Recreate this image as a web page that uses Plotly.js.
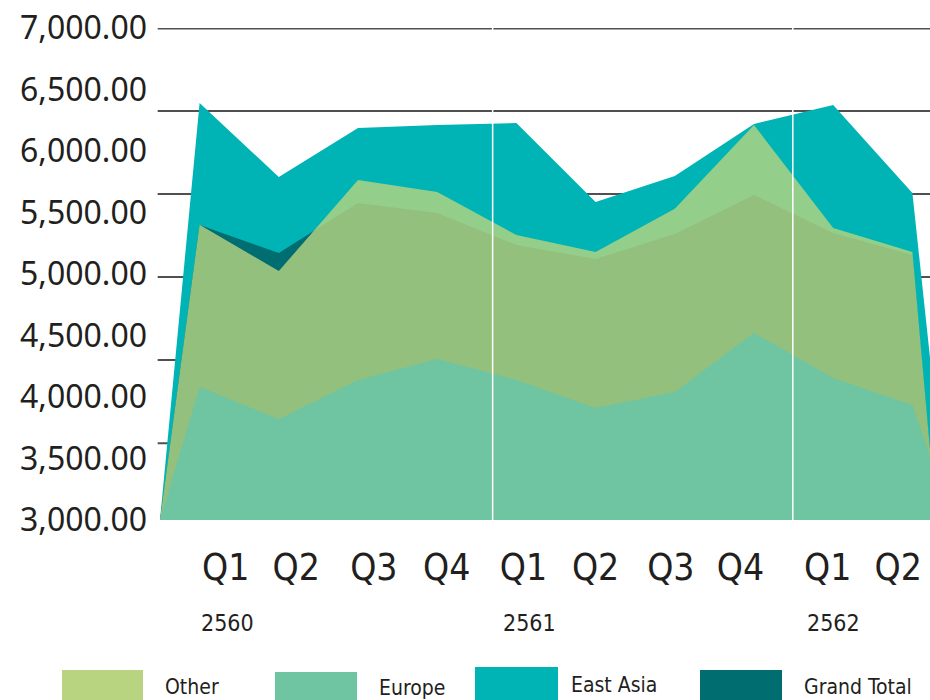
<!DOCTYPE html>
<html>
<head>
<meta charset="utf-8">
<script src="https://cdn.plot.ly/plotly-3.0.1.min.js"></script>
<style>html,body{margin:0;padding:0;background:#fff;}#chart{width:930px;height:700px;}</style>
</head>
<body>
<div id="chart"></div>
<script>
// ---- data ----
var seriesNames = ["Other", "Europe", "East Asia", "Grand Total"];
var quarterIdx = [0.5, 1, 2, 3, 4, 5, 6, 7, 8, 9, 10, 10.5];
var quarterLabels = ["Q1", "Q2", "Q3", "Q4", "Q1", "Q2", "Q3", "Q4", "Q1", "Q2"];
var yearLabels = ["2560", "2561", "2562"];
var eastAsia   = [3000, 6390, 5789, 6187, 6211, 6228, 5585, 5797, 6220, 6374, 5659, 2650];
var grandTotal = [3000, 5398, 5171, 5577, 5496, 5236, 5122, 5325, 5642, 5333, 5154, 1550];
var other      = [3000, 5400, 5024, 5764, 5667, 5317, 5179, 5530, 6211, 5374, 5179, 1560];
var europe     = [3000, 4081, 3821, 4138, 4309, 4138, 3911, 4041, 4520, 4154, 3935, 3000];
var yTicks = [3000, 3500, 4000, 4500, 5000, 5500, 6000, 6500, 7000];

// ---- styles ----
var colors = {
  "Other": "rgb(184,212,128)",
  "Europe": "#6fc4a2",
  "East Asia": "#00b4b6",
  "Grand Total": "#006d71"
};
var otherFill = "rgba(184,212,128,0.8)";
var txt = "#231f20";
var narrow = "'Liberation Sans Narrow', 'DejaVu Sans Condensed', 'Liberation Sans', sans-serif";

function area(name, y, fill) {
  return {
    type: "scatter", mode: "lines", name: name,
    x: quarterIdx, y: y,
    fill: "tozeroy", fillcolor: fill,
    line: {width: 0, color: fill},
    showlegend: false, hoverinfo: "skip"
  };
}
var traces = [
  area("East Asia", eastAsia, colors["East Asia"]),
  area("Grand Total", grandTotal, colors["Grand Total"]),
  area("Other", other, otherFill),
  area("Europe", europe, colors["Europe"])
];

// layout helpers (pixel -> paper)
var L = 160, W = 770, T = 28, H = 492;
function px(x) { return (x - L) / W; }
function py(y) { return (T + H - y) / H; }

var qLabelPos = [1.33, 2.22, 3.20, 4.12, 5.09, 6.00, 6.95, 7.83, 8.93, 9.82];
var yearPos = [1.35, 5.17, 9.01];
var separators = [4.70, 8.49];
var gridVals = [6995, 6325, 5650, 4975, 4300, 3625];

// horizontal rules (drawn beneath the areas)
var shapes = gridVals.map(function (g) {
  return {type: "line", xref: "paper", yref: "y", x0: -0.003, x1: 1, y0: g, y1: g,
          line: {color: "#505050", width: 2}, layer: "below"};
});
separators.forEach(function (s) {
  shapes.push({type: "line", xref: "x", yref: "paper", x0: s, x1: s, y0: 0, y1: 1.002,
               line: {color: "#ffffff", width: 1.5}, layer: "above"});
});
var annotations = yearLabels.map(function (t, i) {
  return {text: t, xref: "x", yref: "paper", x: yearPos[i], y: py(623),
          showarrow: false, xanchor: "center", yanchor: "middle",
          font: {family: narrow, size: 23, color: txt}};
});
// legend (manual, large swatches)
var legendBoxes = [[62, 143, 670, 702], [275, 357, 672, 702], [475, 558, 667, 702], [700, 782, 670, 702]];
var legendText = [[163, 687], [377, 688], [569, 685], [802, 687]];
seriesNames.forEach(function (n, i) {
  var b = legendBoxes[i];
  shapes.push({type: "rect", xref: "paper", yref: "paper",
               x0: px(b[0]), x1: px(b[1]), y0: py(b[3]), y1: py(b[2]),
               fillcolor: colors[n], line: {width: 0}, layer: "above"});
  annotations.push({text: n, xref: "paper", yref: "paper",
                    x: px(legendText[i][0]), y: py(legendText[i][1]),
                    showarrow: false, xanchor: "left", yanchor: "middle",
                    font: {family: narrow, size: 21, color: txt}});
});

var layout = {
  width: 930, height: 700,
  margin: {l: L, r: 0, t: T, b: 700 - T - H, pad: 0},
  paper_bgcolor: "#ffffff", plot_bgcolor: "#ffffff",
  showlegend: false,
  xaxis: {
    range: [0.5, 0.5 + W / 79.2],
    tickmode: "array", tickvals: qLabelPos, ticktext: quarterLabels,
    showgrid: false, zeroline: false, showline: false, ticks: "",
    ticklabelstandoff: 22,
    tickfont: {family: narrow, size: 37, color: txt}
  },
  yaxis: {
    range: [3000, 7000],
    tickmode: "array", tickvals: yTicks, tickformat: ",.2f",
    showgrid: false, zeroline: false, showline: false, ticks: "",
    ticklabelstandoff: 12,
    tickfont: {family: "'Noto Sans', 'Open Sans', sans-serif", size: 32, color: txt}
  },
  shapes: shapes,
  annotations: annotations
};

Plotly.newPlot("chart", traces, layout, {staticPlot: true, displayModeBar: false});
</script>
</body>
</html>
